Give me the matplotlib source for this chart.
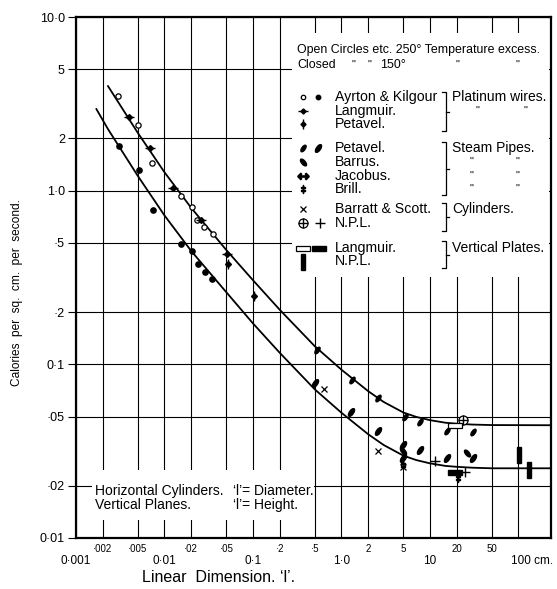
import matplotlib
matplotlib.use("Agg")
import matplotlib.pyplot as plt
from matplotlib.markers import MarkerStyle
from matplotlib.transforms import Affine2D
from matplotlib.patches import Rectangle
from matplotlib.ticker import NullLocator

# --- curves ---
upper_x = [0.0023, 0.005, 0.01, 0.02, 0.05, 0.1, 0.2, 0.5, 1.0, 2.0, 3.0, 5.0, 7.0, 10, 15, 20, 30, 50, 233]
upper_y = [4.0, 2.15, 1.276, 0.797, 0.455, 0.305, 0.2065, 0.127, 0.0931, 0.0701, 0.0607, 0.0528, 0.0498, 0.0477, 0.0461, 0.0455, 0.0450, 0.0447, 0.0446]
lower_x = [0.0017, 0.0023, 0.005, 0.01, 0.02, 0.05, 0.1, 0.2, 0.5, 1.0, 2.0, 3.0, 5.0, 7.0, 10, 15, 20, 30, 50, 233]
lower_y = [2.95, 2.26, 1.215, 0.72, 0.45, 0.26, 0.172, 0.1167, 0.0717, 0.0526, 0.0396, 0.0343, 0.0298, 0.0281, 0.0269, 0.0260, 0.0257, 0.0254, 0.0252, 0.0252]

# --- observations ---
ak_open_x = [0.0030, 0.0050, 0.0073, 0.0152, 0.0205, 0.0235, 0.0279, 0.0356]
ak_open_y = [3.53, 2.39, 1.44, 0.935, 0.81, 0.68, 0.618, 0.566]
ak_closed_x = [0.0031, 0.0052, 0.0075, 0.0152, 0.0203, 0.0237, 0.0287, 0.0347]
ak_closed_y = [1.81, 1.32, 0.778, 0.49, 0.448, 0.376, 0.34, 0.308]
lang_wire_x = [0.0040, 0.0069, 0.0126, 0.0256, 0.0504]
lang_wire_y = [2.67, 1.76, 1.04, 0.68, 0.433]
pet_wire_x = [0.052, 0.103]
pet_wire_y = [0.376, 0.249]
pet_steam_open_x = [0.525, 1.30, 2.56, 5.22, 7.71, 15.4, 30.8]
pet_steam_open_y = [0.121, 0.0813, 0.0636, 0.0498, 0.0466, 0.0414, 0.0410]
pet_steam_closed_x = [0.502, 1.27, 2.61, 5.0, 5.0, 7.71, 15.4, 30.8]
pet_steam_closed_y = [0.0778, 0.0532, 0.0414, 0.0342, 0.0288, 0.0321, 0.0287, 0.0287]
barrus_x = [5.0, 26.0]
barrus_y = [0.0318, 0.0308]
bs_x = [0.634, 2.61, 5.0]
bs_y = [0.0724, 0.0318, 0.0255]
brill_x = [5.0, 20.9]
brill_y = [0.0262, 0.0223]
npl_cyl_open_x = [23.8]
npl_cyl_open_y = [0.0478]
npl_cyl_closed_x = [11.4, 24.9]
npl_cyl_closed_y = [0.0278, 0.0240]
lang_plate_open_x = [19.1]
lang_plate_open_y = [0.0448]
lang_plate_closed_x = [19.1]
lang_plate_closed_y = [0.0240]
npl_plate_x = [102, 132]
npl_plate_y = [0.030, 0.0247]

# --- ticks ---
x_major = [0.001, 0.01, 0.1, 1, 10, 100]
x_major_labels = ["0·001", "0·01", "0·1", "1·0", "10", ""]
x_unit_label = "100 cm."
x_minor = [0.002, 0.005, 0.02, 0.05, 0.2, 0.5, 2, 5, 20, 50]
x_minor_labels = ["·002", "·005", "·02", "·05", "·2", "·5", "2", "5", "20", "50"]
y_ticks = [0.01, 0.02, 0.05, 0.1, 0.2, 0.5, 1, 2, 5, 10]
y_labels = ["0·01", "·02", "·05", "0·1", "·2", "·5", "1·0", "2", "5", "10·0"]

legend_names = ["Ayrton & Kilgour", "Langmuir.", "Petavel.", "Petavel.", "Barrus.", "Jacobus.",
                "Brill.", "Barratt & Scott.", "N.P.L.", "Langmuir.", "N.P.L."]
group_names = ["Platinum wires.", "Steam Pipes.", "Cylinders.", "Vertical Plates."]

fam = ["Liberation Sans", "DejaVu Sans"]

fig = plt.figure(figsize=(5.57, 5.89), dpi=100)
ax = fig.add_axes([76 / 557, 51 / 589, 475 / 557, 521 / 589])
ax.set_xscale("log")
ax.set_yscale("log")
ax.set_xlim(0.001, 233)
ax.set_ylim(0.01, 10)

ax.set_xticks(x_major, x_major_labels, family=fam)
ax.set_xticks(x_minor, x_minor_labels, minor=True, family=fam)
ax.set_yticks(y_ticks, y_labels, family=fam)
ax.yaxis.set_minor_locator(NullLocator())
ax.tick_params(axis="x", which="major", length=0, pad=12, labelsize=8.5)
ax.tick_params(axis="x", which="minor", length=0, pad=4, labelsize=7)
ax.tick_params(axis="y", which="major", direction="out", length=6, width=0.8, pad=2, labelsize=9)
ax.annotate(x_unit_label, xy=(x_major[-1], 0), xycoords=ax.get_xaxis_transform(),
            xytext=(-7, -23), textcoords="offset pixels", ha="left", va="center",
            fontsize=8.5, family=fam, annotation_clip=False)
ax.grid(which="both", color="black", lw=0.8)
ax.set_axisbelow(True)
for s in ax.spines.values():
    s.set_linewidth(1.6)


def ap(px, py):
    return ((px - 76) / 475, (538 - py) / 521)


# white panels where the grid is blanked for the notes
ax.add_patch(Rectangle(ap(292, 277), (549 - 292) / 475, (277 - 33) / 521,
                       transform=ax.transAxes, facecolor="white", edgecolor="none", zorder=1))
ax.add_patch(Rectangle(ap(92, 520), (314 - 92) / 475, (520 - 470) / 521,
                       transform=ax.transAxes, facecolor="white", edgecolor="none", zorder=1))

# curves
ax.plot(upper_x, upper_y, color="black", lw=1.3, zorder=2)
ax.plot(lower_x, lower_y, color="black", lw=1.3, zorder=2)

# marker styles
open_c = dict(marker="o", ms=3.8, mfc="white", mec="black", mew=0.9, ls="none")
closed_c = dict(marker="o", ms=3.8, mfc="black", mec="black", ls="none")
diam = dict(marker="D", ms=3.0, color="black", ls="none")
hbar = dict(marker="_", ms=7, mew=1.0, color="black", ls="none")
vbar = dict(marker="|", ms=7, mew=1.0, color="black", ls="none")
lens = MarkerStyle("o", transform=Affine2D().scale(0.45, 1.0).rotate_deg(-35))
lens_b = MarkerStyle("o", transform=Affine2D().scale(0.45, 1.0).rotate_deg(40))
plate = MarkerStyle("s", transform=Affine2D().scale(1.7, 0.6))
bar = MarkerStyle("s", transform=Affine2D().scale(0.55, 1.9))
steam_o = dict(marker=lens, ms=5.5, color="black", ls="none")
steam_c = dict(marker=lens, ms=6.5, color="black", ls="none")
barrus = dict(marker=lens_b, ms=6, color="black", ls="none")
cross = dict(marker="x", ms=4.5, mew=0.9, color="black", ls="none")
plus = dict(marker="+", ms=6.5, mew=1.0, color="black", ls="none")
ring = dict(marker="o", ms=6.5, mfc="white", mec="black", mew=0.9, ls="none")
brill = dict(marker="$\\ddag$", ms=6, color="black", ls="none")
jac = dict(marker="$\\leftrightarrow$", ms=8, color="black", ls="none")
plate_o = dict(marker=plate, ms=6, mfc="white", mec="black", mew=0.9, ls="none")
plate_c = dict(marker=plate, ms=6, color="black", ls="none")
bar_c = dict(marker=bar, ms=6, color="black", ls="none")

z = dict(zorder=3)
ax.plot(ak_open_x, ak_open_y, **open_c, **z)
ax.plot(ak_closed_x, ak_closed_y, **closed_c, **z)
ax.plot(lang_wire_x, lang_wire_y, **diam, **z)
ax.plot(lang_wire_x, lang_wire_y, **hbar, **z)
ax.plot(pet_wire_x, pet_wire_y, **diam, **z)
ax.plot(pet_wire_x, pet_wire_y, **vbar, **z)
ax.plot(pet_steam_open_x, pet_steam_open_y, **steam_o, **z)
ax.plot(pet_steam_closed_x, pet_steam_closed_y, **steam_c, **z)
ax.plot(barrus_x, barrus_y, **barrus, **z)
ax.plot(bs_x, bs_y, **cross, **z)
ax.plot(brill_x, brill_y, **brill, **z)
ax.plot(npl_cyl_open_x, npl_cyl_open_y, **ring, **z)
ax.plot(npl_cyl_open_x, npl_cyl_open_y, **plus, **z)
ax.plot(npl_cyl_closed_x, npl_cyl_closed_y, **plus, **z)
ax.plot(lang_plate_open_x, lang_plate_open_y, **plate_o, **z)
ax.plot(lang_plate_closed_x, lang_plate_closed_y, **plate_c, **z)
ax.plot(npl_plate_x, npl_plate_y, **bar_c, **z)


def put(px, py, s, size, **kw):
    ax.text(*ap(px, py), s, transform=ax.transAxes, fontsize=size, family=fam,
            va="center", ha="left", zorder=4, **kw)


def sample(px, py, style):
    x, y = ap(px, py)
    ax.plot([x], [y], transform=ax.transAxes, clip_on=False, zorder=4, **style)


def brace(px, top, bottom):
    pts = [ap(px - 4, top), ap(px, top), ap(px, bottom), ap(px - 4, bottom)]
    ax.plot([p[0] for p in pts], [p[1] for p in pts], transform=ax.transAxes,
            color="black", lw=0.9, zorder=4, clip_on=False)
    mid = (top + bottom) / 2
    m = [ap(px, mid), ap(px + 3, mid)]
    ax.plot([p[0] for p in m], [p[1] for p in m], transform=ax.transAxes,
            color="black", lw=0.9, zorder=4)


# header of the key
put(297, 50, "Open Circles etc. 250° Temperature excess.", 8.9)
put(297, 65, "Closed", 8.9)
for dx in [352, 367, 455, 515]:
    put(dx, 65, '"', 8)
put(380, 65, "150°", 8.9)

rows_y = [97, 111, 124, 148, 162, 176, 189, 209, 223, 248, 261]
for yy, name in zip(rows_y, legend_names):
    put(335, yy, name, 10.2)

sample(303, 97, dict(open_c, ms=3.2))
sample(318, 97, dict(closed_c, ms=3.2))
sample(303, 111, dict(diam, ms=2.6))
sample(303, 111, hbar)
sample(303, 124, dict(diam, ms=2.6))
sample(303, 124, vbar)
sample(303, 148, steam_o)
sample(318, 148, steam_c)
sample(303, 162, barrus)
sample(303, 176, jac)
sample(303, 189, brill)
sample(303, 209, cross)
sample(303, 223, ring)
sample(303, 223, plus)
sample(320, 223, plus)
sample(303, 248, plate_o)
sample(319, 248, plate_c)
sample(303, 262, bar_c)

group_y = [97, 148, 209, 248]
for yy, g in zip(group_y, group_names):
    put(452, yy, g, 10)
put(476, 111, '"', 8)
put(523, 111, '"', 8)
for yy in [162, 176, 189]:
    put(470, yy, '"', 8)
    put(515, yy, '"', 8)

brace(446, 92, 131)
brace(446, 142, 195)
brace(446, 203, 231)
brace(446, 241, 268)

# note at lower left
put(95, 491, "Horizontal Cylinders.", 10)
put(233, 491, "‘l’= Diameter.", 10)
put(95, 505, "Vertical Planes.", 10)
put(233, 505, "‘l’= Height.", 10)

fig.text(17 / 557, 1 - 293 / 589, "Calories  per  sq.  cm.  per  second.", rotation=90,
         ha="center", va="center", fontsize=8.6, family=fam)
fig.text(219 / 557, 1 - 578 / 589, "Linear  Dimension. ‘l’.", ha="center", va="center",
         fontsize=11.5, family=fam)

fig.savefig("out.png", dpi=100)
